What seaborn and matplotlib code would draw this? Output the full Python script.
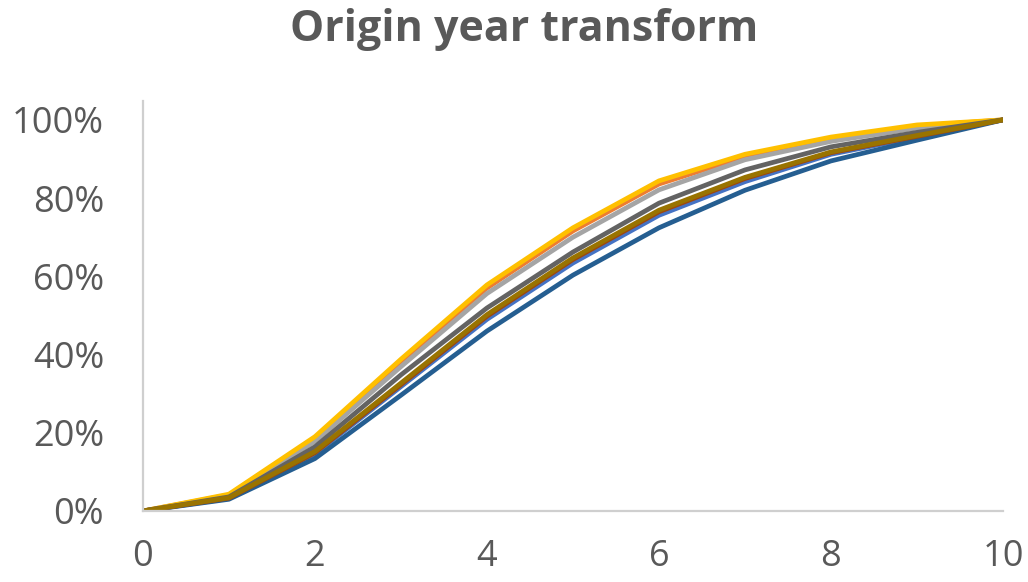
import numpy as np
import pandas as pd
import matplotlib
matplotlib.use("Agg")
import matplotlib.pyplot as plt
from matplotlib.ticker import PercentFormatter, FixedLocator
import seaborn as sns

# Development periods
periods = [0, 1, 2, 3, 4, 5, 6, 7, 8, 9, 10]

# Cumulative share developed per origin year (fraction of ultimate)
oy_blue = [0, 0.032, 0.146, 0.318, 0.490, 0.634, 0.756, 0.842, 0.912, 0.956, 1.0]
oy_orange = [0, 0.041, 0.186, 0.380, 0.570, 0.716, 0.836, 0.906, 0.952, 0.984, 1.0]
oy_gray = [0, 0.039, 0.178, 0.369, 0.556, 0.700, 0.821, 0.898, 0.945, 0.979, 1.0]
oy_gold = [0, 0.043, 0.190, 0.388, 0.578, 0.724, 0.844, 0.912, 0.956, 0.987, 1.0]
oy_darkblue = [0, 0.030, 0.134, 0.296, 0.460, 0.603, 0.724, 0.820, 0.895, 0.948, 1.0]
oy_darkorange = [0, 0.033, 0.149, 0.323, 0.498, 0.643, 0.765, 0.850, 0.916, 0.958, 1.0]
oy_darkgray = [0, 0.036, 0.164, 0.348, 0.519, 0.662, 0.787, 0.872, 0.931, 0.968, 1.0]
oy_darkgold = [0, 0.034, 0.152, 0.327, 0.502, 0.647, 0.769, 0.853, 0.918, 0.960, 1.0]

series = {
    "Year 1": oy_blue,
    "Year 2": oy_orange,
    "Year 3": oy_gray,
    "Year 4": oy_gold,
    "Year 5": oy_darkblue,
    "Year 6": oy_darkorange,
    "Year 7": oy_darkgray,
    "Year 8": oy_darkgold,
}
colors = {
    "Year 1": "#4472C4",
    "Year 2": "#ED7D31",
    "Year 3": "#A5A5A5",
    "Year 4": "#FFC000",
    "Year 5": "#255E91",
    "Year 6": "#9E480E",
    "Year 7": "#636363",
    "Year 8": "#997300",
}

df = pd.concat(
    [pd.DataFrame({"period": periods, "share": vals, "origin": name})
     for name, vals in series.items()],
    ignore_index=True,
)

sns.set_theme(style="white")
plt.rcParams["font.family"] = ["Open Sans", "DejaVu Sans"]

fig = plt.figure(figsize=(10.28, 5.82), dpi=100)
ax = fig.add_axes([0.139, 0.122, 0.8367, 0.705])

sns.lineplot(data=df, x="period", y="share", hue="origin",
             hue_order=list(series.keys()), palette=colors,
             linewidth=3.4, legend=False, ax=ax, sort=False)

ax.set_xlim(0, 10)
ax.set_ylim(0, 1.049)
ax.xaxis.set_major_locator(FixedLocator([0, 2, 4, 6, 8, 10]))
ax.yaxis.set_major_locator(FixedLocator([0, 0.2, 0.4, 0.6, 0.8, 1.0]))
ax.yaxis.set_major_formatter(PercentFormatter(1.0, decimals=0))
ax.set_xlabel("")
ax.set_ylabel("")

for side in ("top", "right"):
    ax.spines[side].set_visible(False)
for side in ("left", "bottom"):
    ax.spines[side].set_color("#CFCFCF")
    ax.spines[side].set_linewidth(1.6)

ax.tick_params(axis="both", length=0, labelsize=26, labelcolor="#595959")
ax.tick_params(axis="x", pad=20)
ax.tick_params(axis="y", pad=28)

fig.text(0.51, 0.95, "Origin year transform", ha="center", va="center",
         fontsize=31, fontweight="bold", color="#595959")

fig.savefig("out.png", dpi=100, facecolor="white")
